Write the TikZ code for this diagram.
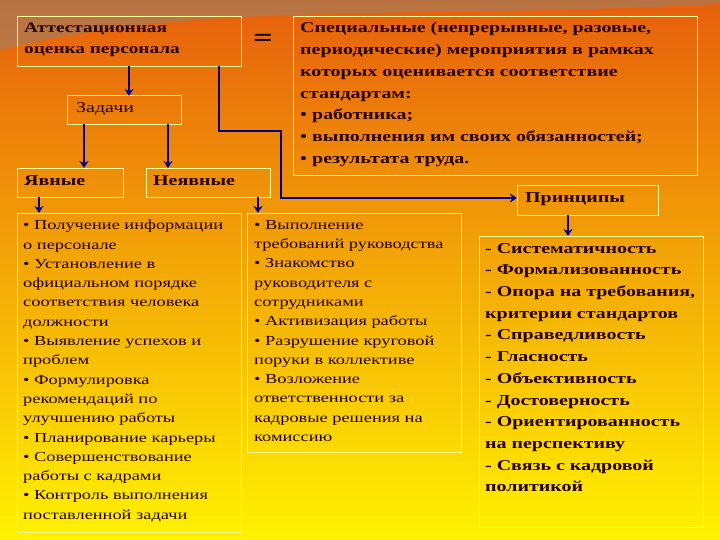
\documentclass[tikz,border=0pt]{standalone}
\usepackage{fontspec}
\setmainfont[FakeStretch=1.33]{Liberation Serif}
\usetikzlibrary{arrows.meta}
\begin{document}
\begin{tikzpicture}[x=1pt,y=-1pt,
  box/.style={draw=yellow!40!white,line width=0.7pt},
  txt/.style={anchor=north west,align=left,text=black!85!red,inner sep=0pt},
  arr/.style={draw=blue!55!black,line width=2pt,-{Stealth[length=7pt,width=9pt]}}]
\useasboundingbox (0,0) rectangle (720,540);
\shade[top color=orange!75!red!90!black!95, bottom color=yellow!90!orange] (0,0) rectangle (720,540);
\fill[gray!60!brown,opacity=0.6] (0,0) -- (720,0) -- (720,4) .. controls (400,20) and (200,0) .. (0,50) -- cycle;
% boxes
\draw[box] (17,16) rectangle (241,66);
\node[txt,font=\fontsize{14.5}{21}\selectfont\bfseries] (A) at (24,23) {Аттестационная\\оценка персонала};
\node[font=\fontsize{26}{26}\selectfont\bfseries] (eq) at (263,40) {=};
\draw[box] (293,16) rectangle (697,175);
\node[txt,font=\fontsize{15}{21.8}\selectfont\bfseries] (S) at (300,22) {Специальные (непрерывные, разовые,\\периодические) мероприятия в рамках\\которых оценивается соответствие\\стандартам:\\• работника;\\• выполнения им своих обязанностей;\\• результата труда.};
\draw[box] (67,95) rectangle (181,124);
\node[txt,font=\fontsize{15}{18}\selectfont] (Z) at (76,102) {Задачи};
\draw[box] (17,168) rectangle (123,197);
\node[txt,font=\fontsize{15}{18}\selectfont\bfseries] (Y) at (24,175) {Явные};
\draw[box] (146,168) rectangle (270,197);
\node[txt,font=\fontsize{15}{18}\selectfont\bfseries] (N) at (153,175) {Неявные};
\draw[box] (17,213) rectangle (241,532);
\node[txt,font=\fontsize{13.8}{19.3}\selectfont] (L) at (23,220) {• Получение информации\\о персонале\\• Установление в\\официальном порядке\\соответствия человека\\должности\\• Выявление успехов и\\проблем\\• Формулировка\\рекомендаций по\\улучшению работы\\• Планирование карьеры\\• Совершенствование\\работы с кадрами\\• Контроль выполнения\\поставленной задачи};
\draw[box] (247,213) rectangle (461,452);
\node[txt,font=\fontsize{13.8}{19.3}\selectfont] (M) at (254,220) {• Выполнение\\требований руководства\\• Знакомство\\руководителя с\\сотрудниками\\• Активизация работы\\• Разрушение круговой\\поруки в коллективе\\• Возложение\\ответственности за\\кадровые решения на\\комиссию};
\draw[box] (517,185) rectangle (658,215);
\node[txt,font=\fontsize{15}{18}\selectfont\bfseries] (P) at (525,192) {Принципы};
\draw[box] (479,236) rectangle (703,527);
\node[txt,font=\fontsize{15}{21.7}\selectfont\bfseries] (R) at (485,243) {- Систематичность\\- Формализованность\\- Опора на требования,\\критерии стандартов\\- Справедливость\\- Гласность\\- Объективность\\- Достоверность\\- Ориентированность\\на перспективу\\- Связь с кадровой\\политикой};
% arrows
\coordinate (a1) at (129,66); \coordinate (a2) at (129,96);
\draw[arr] (a1) -- (a2);
\coordinate (z1) at (84,124); \coordinate (z2) at (84,168);
\coordinate (z3) at (168,124); \coordinate (z4) at (168,168);
\draw[arr] (z1) -- (z2); \draw[arr] (z3) -- (z4);
\coordinate (y1) at (39,197); \coordinate (y2) at (39,213);
\coordinate (n1) at (258,197); \coordinate (n2) at (258,213);
\draw[arr] (y1) -- (y2); \draw[arr] (n1) -- (n2);
\coordinate (e1) at (219,66); \coordinate (e2) at (517,198);
\draw[arr] (e1) |- (281,131) |- (e2);
\coordinate (p1) at (568,215); \coordinate (p2) at (568,236);
\draw[arr] (p1) -- (p2);
\end{tikzpicture}
\end{document}
